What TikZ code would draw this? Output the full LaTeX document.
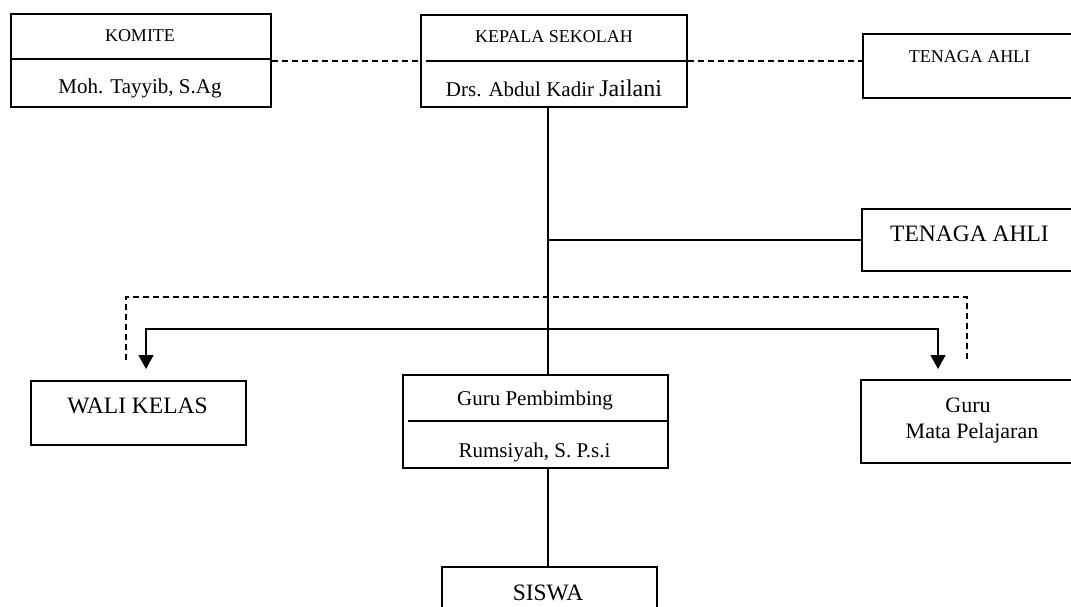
\documentclass[tikz,border=0pt]{standalone}
\usepackage{fontspec}
\setmainfont{Liberation Serif}
\usetikzlibrary{arrows.meta}
\begin{document}
\begin{tikzpicture}[x=1pt,y=-1pt,
  box/.style={draw,line width=1.7pt,inner sep=0pt,anchor=north west},
  conn/.style={line width=1.5pt},
  dashline/.style={line width=1.5pt,dash pattern=on 6pt off 4pt},
  arrowline/.style={line width=1.5pt,-{Triangle[width=15pt,length=14pt]}},
  lbl/.style={anchor=base,inner sep=0pt},
  fa/.style={font=\fontsize{18}{22}\selectfont},
  fb/.style={font=\fontsize{21}{25}\selectfont},
  fc/.style={font=\fontsize{23.5}{27}\selectfont}]
\useasboundingbox (0,0) rectangle (1071,606);
\clip (0,0) rectangle (1071,606);
% boxes
\node[box,minimum width=260pt,minimum height=93pt] (komite) at (10,13) {};
\node[box,minimum width=266pt,minimum height=92pt] (kepala) at (420,14) {};
\node[box,minimum width=220pt,minimum height=64pt] (ahli1) at (862,33) {};
\node[box,minimum width=220pt,minimum height=62pt] (ahli2) at (861,208) {};
\node[box,minimum width=215pt,minimum height=64pt] (wali) at (30,380) {};
\node[box,minimum width=265pt,minimum height=93pt] (gp) at (402,374) {};
\node[box,minimum width=220pt,minimum height=83pt] (gmp) at (860,379) {};
\node[box,minimum width=215pt,minimum height=60pt] (siswa) at (441,566) {};
% dividers
\draw[line width=1.7pt] (10,59) -- (270,59);
\draw[line width=1.7pt] (426,61) -- (686,61);
\draw[line width=1.7pt] (408,421) -- (667,421);
% texts
\node[lbl,fa] (tkomite) at (140,41) {KOMITE};
\node[lbl,fb] (tmoh) at (140,93) {Moh. Tayyib, S.Ag};
\node[lbl,fa] (tkepala) at (554,42) {KEPALA SEKOLAH};
\node[lbl,fb] (tdrs) at (554,96) {Drs. Abdul Kadir {\fontsize{24}{28}\selectfont Jailani}};
\node[lbl,fa] (tahli1) at (969.5,62) {TENAGA AHLI};
\node[lbl,fc] (tahli2) at (969.5,241) {TENAGA AHLI};
\node[lbl,fc] (twali) at (137.5,413) {WALI KELAS};
\node[lbl,fb] (tgp) at (535,405) {Guru Pembimbing};
\node[lbl,fb] (trum) at (534.5,457) {Rumsiyah, S. P.s.i};
\node[lbl,font=\fontsize{22}{26}\selectfont] (tguru) at (968,412) {Guru};
\node[lbl,font=\fontsize{22}{26}\selectfont] (tmata) at (972,438) {Mata Pelajaran};
\node[lbl,fc] (tsiswa) at (548,600) {SISWA};
% connectors
\coordinate (kdivL) at (420,61);
\coordinate (kdivR) at (686,61);
\draw[dashline] (komite.east |- kdivL) -- (kepala.west |- kdivL);
\draw[dashline] (kepala.east |- kdivR) -- (ahli1.west |- kdivR);
\coordinate (sp) at (548,0);
\draw[conn] (kepala.south -| sp) -- (gp.north -| sp);
\draw[conn] (ahli2.west -| sp) -- (ahli2.west);
\draw[conn] (gp.south -| sp) -- (siswa.north -| sp);
\coordinate (dl) at (126,360);
\coordinate (dr) at (967,360);
\coordinate (dy) at (0,297);
\draw[dashline] (dl) -- (dl |- dy) -- (dr |- dy) -- (dr);
\coordinate (hj) at (548,329);
\coordinate (al) at (146,369);
\coordinate (ar) at (938,369);
\draw[arrowline] (hj) -| (al);
\draw[arrowline] (hj) -| (ar);
\end{tikzpicture}
\end{document}
